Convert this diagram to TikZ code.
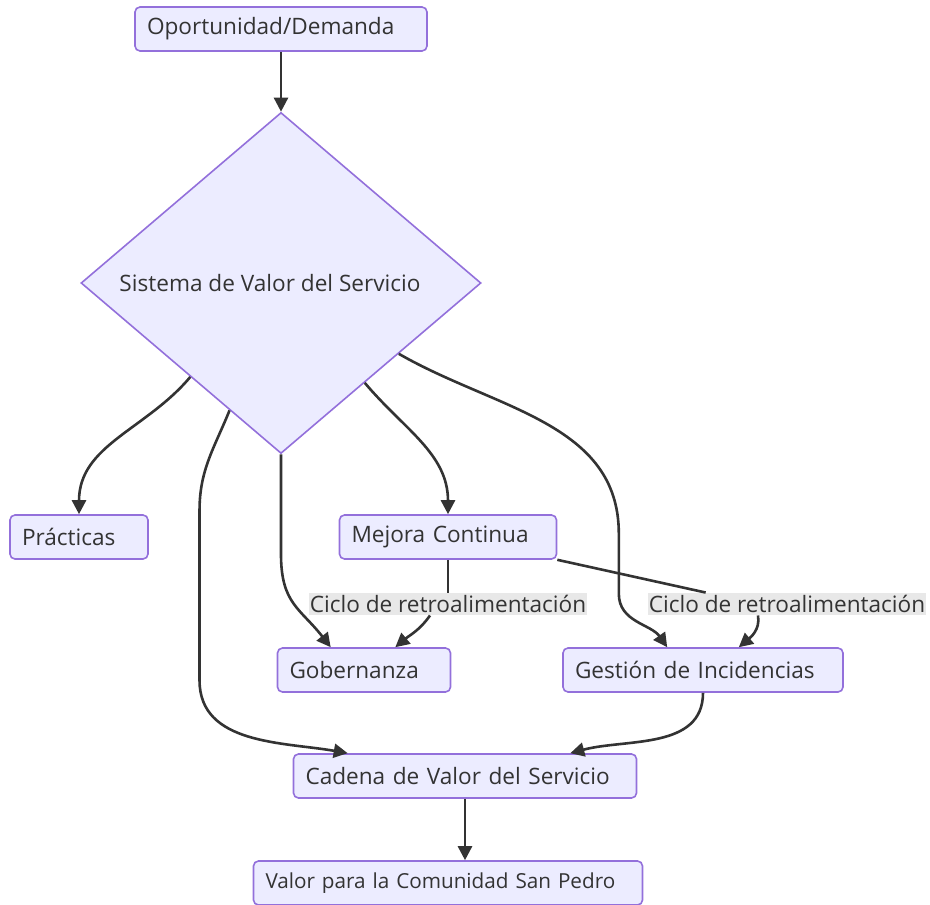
\documentclass[tikz,border=0pt]{standalone}
\usepackage{fontspec}
\setmainfont{Open Sans}
\usetikzlibrary{arrows.meta, positioning, calc, shapes.geometric}
\definecolor{nodefill}{HTML}{ECECFF}
\definecolor{nodeedge}{HTML}{9370DB}
\definecolor{edgecol}{HTML}{333333}
\definecolor{lblfill}{HTML}{E8E8E8}

\begin{document}
\begin{tikzpicture}[
  x=1pt, y=1pt,
  font=\fontsize{22.6}{27}\selectfont,
  box/.style={draw=nodeedge, fill=nodefill, rounded corners=5pt,
              line width=1.6pt, text=edgecol, minimum height=44pt,
              inner xsep=12pt, text width=#1, align=left},
  decision/.style={diamond, draw=nodeedge, fill=nodefill, line width=1.6pt,
                   text=edgecol, minimum width=400pt, minimum height=341pt,
                   inner sep=0pt},
  lbl/.style={fill=lblfill, text=edgecol, inner xsep=1pt, inner ysep=2.5pt},
  line/.style={draw=edgecol, line width=2.6pt},
  arr/.style={line, -{Triangle[length=14pt, width=14pt]}},
]
\useasboundingbox (0,0) rectangle (930,-905);

% Nodes
\node[box=268pt] (op) at (281,-29) {Oportunidad/Demanda};
\node[decision] (svs) at (281,-283) {Sistema de Valor del Servicio\hspace*{22pt}};
\node[box=114pt] (pract) at (79,-537) {Prácticas};
\node[box=193pt] (mejora) at (448,-537) {Mejora Continua};
\node[box=149pt] (gob) at (364,-670) {Gobernanza};
\node[box=256pt] (gest) at (703,-670) {Gestión de Incidencias};
\node[box=319pt] (cad) at (465,-776) {Cadena de Valor del Servicio};
\node[box=365pt, font=\fontsize{20.7}{25}\selectfont] (valor) at (448,-883)
  {Valor para la Comunidad San Pedro};

% Edge labels
\node[lbl] (lbl1) at (448,-604) {Ciclo de retroalimentación};
\node[lbl] (lbl2) at (787,-604) {Ciclo de retroalimentación};

% Edges
\draw[arr] (op) -- (svs);
\draw[arr] (svs.226) to[out=-130, in=90] (pract.north);
\draw[arr] (svs.south) -- ++(0,-100)
  to[out=-90, in=128, looseness=1.2] ([xshift=54pt]gob.north west);
\draw[arr] (svs.310) to[out=-50, in=90] (mejora.north);
\draw[arr] (svs.248) to[out=-112, in=90] ++(-30,-100) -- ++(0,-170)
  to[out=-90, in=170] ([xshift=55pt]cad.north west);
\draw[arr] (svs.329) to[out=-30, in=90] ++(220,-180) -- ++(0,-60)
  to[out=-90, in=125] ([xshift=105pt]gest.north west);

% Feedback loops
\draw[line] (mejora.south) -- (lbl1.north);
\draw[arr] ([xshift=-18pt]lbl1.south) to[out=-125, in=40] ([xshift=-56pt]gob.north east);
\draw[line] (mejora.south east) -- ([xshift=58pt]lbl2.north west);
\draw[arr] ([xshift=-29pt]lbl2.south) to[out=-80, in=40] ([xshift=-105pt]gest.north east);

\draw[arr] (gest.south) to[out=-90, in=15] ([xshift=-67pt]cad.north east);
\draw[arr] (cad.south) -- (cad.south |- valor.north);
\end{tikzpicture}
\end{document}
